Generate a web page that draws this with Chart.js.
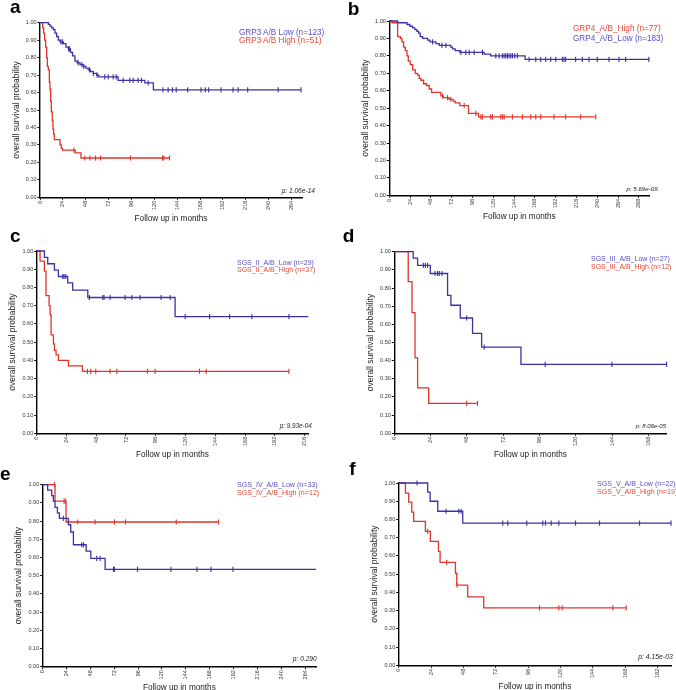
<!DOCTYPE html>
<html>
<head>
<meta charset="utf-8">
<script src="https://cdn.jsdelivr.net/npm/chart.js@4.4.1/dist/chart.umd.min.js"></script>
<style>
  body { margin:0; background:#fff; width:676px; height:690px; position:relative; overflow:hidden;
         font-family:"Liberation Sans", Arial, sans-serif; }
  canvas { position:absolute; }
  .letter { position:absolute; font-weight:bold; font-size:19px; line-height:19px; color:#000; }
  .leg { position:absolute; white-space:nowrap; line-height:1; transform:translateY(-50%); }
  .pv { position:absolute; white-space:nowrap; font-style:italic; line-height:1; color:#222;
        transform:translate(-100%,-50%); }
</style>
</head>
<body>
<script>
// ---- data: months at each drop / end, survival after it, censored months ----
const aLowT = [8.7,10.5,12.2,14,15.7,17.5,19.2,21,24.5,27.2,29.7,32,34.2,36.7,39.1,42,45.4,48.2,50.6,53,56,59.4,61.8,82,110,119,274];
const aLowS = [0.99,0.98,0.97,0.96,0.94,0.92,0.90,0.89,0.88,0.86,0.85,0.83,0.81,0.78,0.77,0.76,0.75,0.74,0.73,0.72,0.71,0.70,0.69,0.67,0.655,0.615,0.615];
const aLowC = [22,23.5,30,31,40,44,46,52,56,60,68,71.6,76.8,80,87.3,94.3,97.8,103,106.5,113.5,129,134.5,139,143,155,169,173.6,177,190,202.6,208,218,250,274];
const aHighT = [2.8,3.8,4.9,5.9,7,7.7,8.7,9.8,10.5,11.2,11.9,12.9,13.6,14.3,15,21,22.4,23.8,37,43,136];
const aHighS = [0.97,0.94,0.90,0.86,0.80,0.75,0.73,0.66,0.62,0.55,0.49,0.44,0.39,0.36,0.33,0.30,0.28,0.27,0.255,0.225,0.225];
const aHighC = [35.6,47.1,52.4,58.3,63.6,95,128.6,130,136];

const bLowT = [9.6,20.4,23.8,26.9,29.6,31.9,33.8,35.7,38.4,44.2,46.9,53.8,57.6,71,73,76,81.4,109.4,117,156.7,300];
const bLowS = [0.99,0.98,0.97,0.96,0.95,0.94,0.93,0.91,0.90,0.89,0.88,0.87,0.86,0.85,0.84,0.83,0.82,0.81,0.80,0.78,0.78];
const bLowC = [50,60.7,65.3,82.6,88.3,92.2,97.9,107.5,122.9,126.7,130.6,132.5,134.4,136.3,138.2,140.2,142.1,144.8,147.8,161.3,169,174.7,180.5,186.3,192,199.7,201.6,203.5,215,222.7,230.4,240,253.5,265,272.7,299.5];
const bHighT = [3.1,9.6,12.7,14.6,16.5,18.4,20.4,21.9,24.2,26.9,30,32.6,34.6,36.5,39.6,43,46,48.8,59.5,62.2,69,73.7,76,81.4,91.4,102.9,238.2];
const bHighS = [0.99,0.91,0.90,0.88,0.85,0.83,0.80,0.77,0.75,0.72,0.70,0.69,0.67,0.66,0.64,0.63,0.61,0.59,0.57,0.56,0.55,0.54,0.53,0.515,0.47,0.45,0.45];
const bHighC = [61.4,67.2,71,86.4,99.8,105.6,107.5,117.1,119,128.6,130.6,132.5,142,153.6,163.2,169,174.7,190,203.5,220.8,238.2];

const cLowT = [6.2,8.9,14.3,17.5,25,29,41.2,111.6,219];
const cLowS = [0.965,0.93,0.895,0.86,0.825,0.785,0.745,0.64,0.64];
const cLowC = [21,22,23.4,42.5,53.3,54.3,59.2,71.3,76.7,83.4,100.3,107.6,119.7,139.4,155.5,173.5,203.4];
const cHighT = [2.7,6.2,7.5,10,10.8,11.6,13.5,14.3,15.6,17.5,25.6,36.9,203.4];
const cHighS = [0.945,0.89,0.755,0.70,0.65,0.54,0.49,0.455,0.43,0.40,0.37,0.34,0.34];
const cHighC = [40.9,43.6,47.6,59.2,64.6,89.3,95.5,131.3,136.7,203.4];

const dLowT = [12.5,15.4,23.8,35.2,37.4,43.6,51.7,57.7,83.7,180];
const dLowS = [0.965,0.925,0.88,0.76,0.705,0.635,0.55,0.475,0.38,0.38];
const dLowC = [19.2,20.5,22,26.9,28.6,29.7,31.5,47.8,59.4,99.7,143.8,179.9];
const dHighT = [9.2,11.7,13.7,15.4,22.7,55];
const dHighS = [0.835,0.665,0.415,0.25,0.165,0.165];
const dHighC = [47.8,55];

const eLowT = [5,9.1,10.7,12.4,14.8,16.8,25.9,28.2,30.9,43.7,48.4,62.8,275];
const eLowS = [0.97,0.94,0.91,0.875,0.845,0.815,0.78,0.74,0.67,0.635,0.595,0.535,0.535];
const eLowC = [20.8,39.3,41,54.4,57.8,71.2,72.2,95.4,129,155.2,169.3,191.5];
const eHighT = [12.4,23.5,177];
const eHighS = [0.91,0.795,0.795];
const eHighC = [11.8,21.5,22.8,25.9,35.3,52.7,72.2,83.3,134.4,177];

const fLowT = [21.5,23.3,29,47.5,202];
const fLowS = [0.95,0.90,0.845,0.78,0.78];
const fLowC = [13.6,35.1,44.6,46.3,77.2,80.9,95,106.9,108.9,113.1,118.8,131.2,149,178.7,202];
const fHighT = [5,7.4,9.7,11.1,19.8,23.5,29.5,30.7,42.1,43.1,51.2,63.1,168.8];
const fHighS = [0.945,0.895,0.84,0.79,0.735,0.68,0.625,0.565,0.505,0.44,0.375,0.315,0.315];
const fHighC = [21.5,35.6,43.3,104.5,118.8,121.3,158.9,168.8];

const xMax = { a: 275, b: 300, c: 219, d: 180, e: 275, f: 202 };
const legends = {
  a: ['GRP3 A/B Low (n=123)', 'GRP3 A/B High (n=51)'],
  b: ['GRP4_A/B_Low (n=183)', 'GRP4_A/B_High (n=77)'],
  c: ['SGS_II_A/B_Low (n=29)', 'SGS_II_A/B_High (n=37)'],
  d: ['SGS_III_A/B_Low (n=27)', 'SGS_III_A/B_High (n=12)'],
  e: ['SGS_IV_A/B_Low (n=33)', 'SGS_IV_A/B_High (n=12)'],
  f: ['SGS_V_A/B_Low (n=22)', 'SGS_V_A/B_High (n=19)']
};
const pValues = { a: 'p: 1.06e-14', b: 'p: 5.69e-09', c: 'p: 9.93e-04', d: 'p: 8.06e-05', e: 'p: 0.290', f: 'p: 4.15e-03' };

const BLUE = '#3b32a6', RED = '#e2342a';
const BLUE_TXT = '#5a4fc2', RED_TXT = '#e8473b';

// layout of each panel (plot box in page pixels)
const panels = [
  { id:'a', low:[aLowT,aLowS,aLowC], high:[aHighT,aHighS,aHighC], l:40,    t:22.7,  r:302,   b:197.3,
    letter:[10,-2.8], legX:239, legY:[33.3,40.7], legOrder:['low','high'], legFs:8.2, pv:[315,190.7,6.6] },
  { id:'b', low:[bLowT,bLowS,bLowC], high:[bHighT,bHighS,bHighC], l:389.3, t:21,    r:649.3, b:195.3,
    letter:[347.7,-0.8], legX:573, legY:[29.3,38.7], legOrder:['high','low'], legFs:8.2, pv:[657.7,188.7,6.2] },
  { id:'c', low:[cLowT,cLowS,cLowC], high:[cHighT,cHighS,cHighC], l:36.7,  t:251,   r:308.3, b:433.3,
    letter:[10,225.9], legX:237, legY:[261.7,269], legOrder:['low','high'], legFs:7, pv:[311.7,426,6.3] },
  { id:'d', low:[dLowT,dLowS,dLowC], high:[dHighT,dHighS,dHighC], l:394.3, t:251.7, r:666.7, b:433.3,
    letter:[342.7,225.9], legX:591, legY:[258.3,266], legOrder:['low','high'], legFs:7, pv:[666,426,6] },
  { id:'e', low:[eLowT,eLowS,eLowC], high:[eHighT,eHighS,eHighC], l:42.7,  t:484.7, r:316,   b:666.7,
    letter:[0,464.2], legX:237, legY:[486,494.3], legOrder:['low','high'], legFs:7.1, pv:[316.7,659.3,6.6] },
  { id:'f', low:[fLowT,fLowS,fLowC], high:[fHighT,fHighS,fHighC], l:398.7, t:483,   r:671,   b:665.3,
    letter:[349.3,459.2], legX:597, legY:[485.3,492.7], legOrder:['low','high'], legFs:7.1, pv:[672.7,657.3,6.8] }
];

Chart.defaults.font.family = '"Liberation Sans", Arial, sans-serif';
Chart.defaults.color = '#222';

function stepAt(T, S, t) {
  let v = 1;
  for (let i = 0; i < T.length; i++) { if (T[i] <= t) v = S[i]; else break; }
  return v;
}

function curve(T, S, color) {
  return {
    data: [{ x: 0, y: 1 }].concat(T.map((t, i) => ({ x: t, y: S[i] }))),
    stepped: true, borderColor: color, borderWidth: 1.3, pointRadius: 0, fill: false, clip: false
  };
}

function marks(T, S, C, color) {
  return {
    data: C.map(t => ({ x: t, y: stepAt(T, S, t) })),
    showLine: false, pointStyle: 'line', rotation: 90, pointRadius: 2.6,
    pointBorderWidth: 1.1, pointBorderColor: color, borderColor: color, clip: false
  };
}

function addText(cls, txt, left, top, extra) {
  const d = document.createElement('div');
  d.className = cls;
  d.textContent = txt;
  d.style.left = left + 'px';
  d.style.top = top + 'px';
  Object.assign(d.style, extra || {});
  document.body.appendChild(d);
}

function drawPanel(p) {
  const cl = Math.floor(p.l) - 30, ct = Math.floor(p.t) - 6;
  const cw = Math.ceil(p.r) + 7 - cl, ch = Math.ceil(p.b) + 27 - ct;
  const yW = p.l - cl, xH = ct + ch - p.b;

  const cv = document.createElement('canvas');
  cv.width = cw; cv.height = ch;
  cv.style.left = cl + 'px'; cv.style.top = ct + 'px';
  document.body.appendChild(cv);

  const [lT, lS, lC] = p.low, [hT, hS, hC] = p.high;

  new Chart(cv, {
    type: 'line',
    data: {
      datasets: [
        curve(lT, lS, BLUE), curve(hT, hS, RED),
        marks(lT, lS, lC, BLUE), marks(hT, hS, hC, RED)
      ]
    },
    options: {
      responsive: false, animation: false,
      layout: { padding: { left: 0, top: p.t - ct, right: cl + cw - p.r, bottom: 0 } },
      plugins: { legend: { display: false }, tooltip: { enabled: false } },
      scales: {
        x: {
          type: 'linear', min: 0, max: xMax[p.id],
          afterFit: s => { s.height = xH; },
          border: { display: true, color: '#000', width: 1.4 },
          grid: { drawOnChartArea: false, drawTicks: true, tickLength: 2.5, color: '#000' },
          ticks: { stepSize: 24, includeBounds: false, autoSkip: false, maxRotation: 90, minRotation: 90,
                   padding: 1, font: { size: 5.5 }, color: '#333', callback: v => String(v) },
          title: { display: true, text: 'Follow up in months', font: { size: 8.2 }, color: '#222',
                   padding: { top: 0, bottom: 1 } }
        },
        y: {
          min: 0, max: 1,
          afterFit: s => { s.width = yW; },
          border: { display: true, color: '#000', width: 1.4 },
          grid: { drawOnChartArea: false, drawTicks: true, tickLength: 2.5, color: '#000' },
          ticks: { stepSize: 0.1, padding: 1, font: { size: 5.5 }, color: '#333',
                   callback: v => Number(v).toFixed(2) },
          title: { display: true, text: 'overall survival probability', font: { size: 8.5 }, color: '#222',
                   padding: { top: 2, bottom: 0 } }
        }
      }
    }
  });

  addText('letter', p.id, p.letter[0], p.letter[1]);
  p.legOrder.forEach((k, i) => {
    const txt = legends[p.id][k === 'low' ? 0 : 1];
    addText('leg', txt, p.legX, p.legY[i],
            { fontSize: p.legFs + 'px', color: k === 'low' ? BLUE_TXT : RED_TXT });
  });
  addText('pv', pValues[p.id], p.pv[0], p.pv[1], { fontSize: p.pv[2] + 'px' });
}

panels.forEach(drawPanel);
</script>
</body>
</html>
